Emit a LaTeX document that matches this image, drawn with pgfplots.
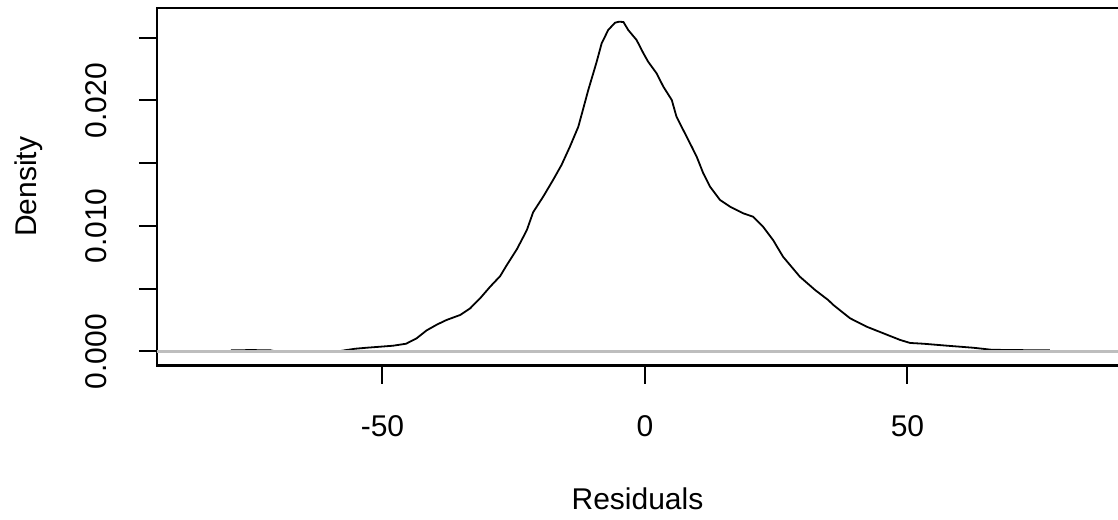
\documentclass[border=0pt]{standalone}
\usepackage{fontspec}
\setmainfont{Liberation Sans}
\usepackage{pgfplots}
\pgfplotsset{compat=1.18}

\definecolor{zeroline}{RGB}{190,190,190}

\begin{document}
\begin{tikzpicture}[font=\fontsize{15}{18}\selectfont]
\begin{axis}[
  scale only axis,
  width  = 480.5pt,
  height = 178.75pt,
  xmin = -92.95, xmax = 90.1,
  ymin = -0.001116, ymax = 0.02737,
  axis x line* = bottom,
  axis y line* = left,
  axis line style = {-, line width=1.1pt, line cap=rect},
  tick align = outside,
  major tick length = 9pt,
  every tick/.style = {black, line width=1pt},
  scaled x ticks = false,
  scaled y ticks = false,
  xtick = {-50, 0, 50},
  xticklabels = {-50, 0, 50},
  ytick = {0, 0.005, 0.01, 0.015, 0.02, 0.025},
  yticklabels = {0.000, {}, 0.010, {}, 0.020, {}},
  xticklabel style = {anchor=base, yshift=-26.25pt},
  yticklabel style = {xshift=-16pt, rotate=90, anchor=base},
  every axis x label/.style = {at={(rel axis cs:0.5,0)}, yshift=-71.75pt, anchor=base},
  every axis y label/.style = {at={(rel axis cs:0,0.5)}, xshift=-60pt, rotate=90, anchor=base},
  xlabel = {Residuals},
  ylabel = {Density},
  clip = true,
]
  %% density of the residuals
  \addplot[black, line width=0.9pt] coordinates {
    (-78.9, 0.00010) (-75.0, 0.00011) (-71.4, 0.00010) (-70.3, 0.0)
    (-65.0, 0.0) (-58.6, 0.0)
    (-57.1, 0.00010) (-55.2, 0.00022) (-53.0, 0.00030) (-50.5, 0.00038)
    (-48.0, 0.00046) (-45.5, 0.00062) (-43.5, 0.00105) (-41.6, 0.00168)
    (-39.6, 0.00215) (-37.8, 0.00251) (-35.2, 0.00291) (-33.3, 0.00344)
    (-31.4, 0.00424) (-29.5, 0.00516) (-27.6, 0.00600) (-26.3, 0.00690)
    (-24.4, 0.00815) (-23.4, 0.00895) (-22.5, 0.00968) (-21.3, 0.01110)
    (-19.4, 0.01233) (-17.5, 0.01367) (-15.9, 0.01486) (-14.3, 0.01632)
    (-12.7, 0.01791) (-12.0, 0.01898) (-10.8, 0.02084) (-9.85, 0.02217)
    (-9.2, 0.02309) (-8.25, 0.02456) (-7.0, 0.02562) (-5.7, 0.02620)
    (-4.9, 0.02628) (-4.1, 0.02625) (-3.2, 0.02562) (-1.6, 0.02482)
    (-0.3, 0.02376) (0.6, 0.02309) (2.2, 0.02217) (3.5, 0.02110)
    (5.1, 0.02004) (6.0, 0.01871) (7.6, 0.01739) (8.9, 0.01632)
    (9.85, 0.01552) (11.1, 0.01420) (12.4, 0.01313) (14.3, 0.01207)
    (16.2, 0.01154) (18.7, 0.01101) (20.6, 0.01074) (22.5, 0.00994)
    (24.4, 0.00888) (26.3, 0.00755) (29.5, 0.00596) (32.4, 0.00490)
    (34.9, 0.00410) (35.9, 0.00370) (39.05, 0.00265) (42.2, 0.00198)
    (45.4, 0.00145) (48.6, 0.00092) (50.5, 0.00068) (53.0, 0.00062)
    (57.3, 0.00047) (62.5, 0.00030) (66.0, 0.00014) (70.0, 0.00011)
    (77.1, 0.00010)
  };
  %% zero line drawn over the curve
  \addplot[zeroline, line width=1.2pt] coordinates {(-92.95, 0) (90.1, 0)};
  \draw[line width=1.1pt, line cap=rect] (rel axis cs:0,1) -- (rel axis cs:1,1);
  \coordinate (SW) at (rel axis cs:0,0);
  \coordinate (NE) at (rel axis cs:1,1);
\end{axis}
\pgfresetboundingbox
\useasboundingbox ([xshift=-78.5pt, yshift=-76.75pt]SW) rectangle ([yshift=4pt]NE);
\end{tikzpicture}
\end{document}
